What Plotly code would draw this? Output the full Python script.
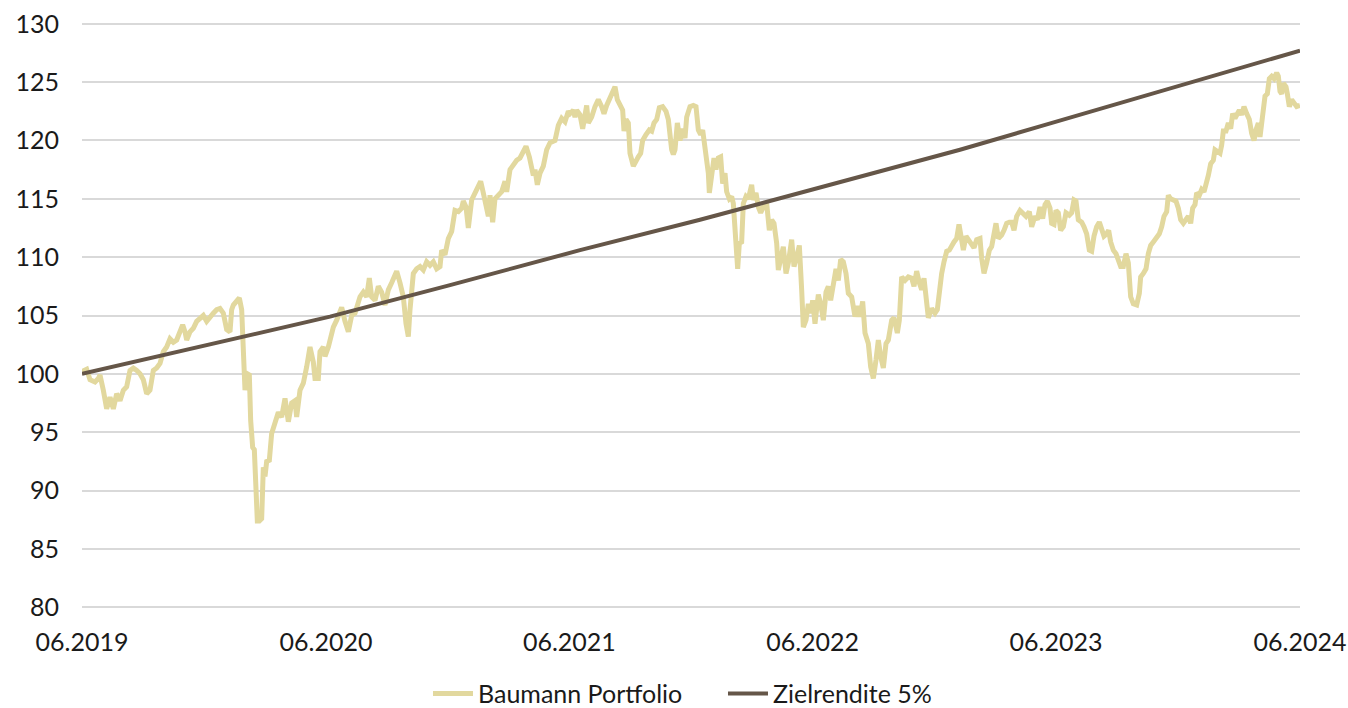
"""Baumann Portfolio vs. Zielrendite 5% (06.2019 - 06.2024)."""

import pandas as pd
import plotly.graph_objects as go

# Palette
BEIGE = "#E2D89E"
BROWN = "#655648"
GRID = "#D9D9D9"
TEXT = "#1A1A1A"

START_DATE = "2019-06-30"

# Days since START_DATE and index values (start = 100)
PORTFOLIO_DAYS = [
    0, 7, 12, 19.5, 24.5, 27, 32, 37, 42, 47, 52, 57, 62, 67, 72, 77, 82, 87, 92, 97,
    102, 107, 112, 117, 122, 127, 132, 137, 142, 147, 151, 154.5, 157, 162, 167, 172,
    177, 182, 187, 192, 197, 202, 207, 212, 217, 222, 224.5, 227, 232, 236, 239.5,
    242, 244.5, 248, 251, 253, 256, 258.5, 260.5, 263, 266, 269.5, 272, 274.5, 277,
    281, 284.5, 289.5, 294.5, 299.5, 304.5, 309.5, 314.5, 319.5, 322, 327, 332, 337,
    342, 347, 349.5, 354.5, 357, 362, 364.5, 369.5, 374.5,
    377, 382, 389.5, 394.5, 399.5, 404.5, 409.5, 417, 422, 427, 431, 434.5, 439.5,
    444.5, 449.5, 454.5, 459.5, 464.5, 472, 477, 482, 486, 489.5, 492, 497, 502, 507,
    512, 517, 522, 527, 532, 537, 539.5, 544.5, 549.5, 554.5, 559.5, 564.5, 569.5,
    572, 576, 579.5, 584.5, 589.5, 594.5, 598, 602, 607, 609.5, 612, 616, 619.5,
    624.5, 629.5, 634.5, 637, 642, 647, 652, 657, 662, 666, 671, 674.5, 677, 679.5,
    683, 687, 692, 697, 702, 709.5, 714.5, 719.5, 724.5, 729.5,
    732, 737, 739.5, 742, 747, 751, 754.5, 757, 759.5, 764.5, 769.5, 774.5, 779.5,
    783, 787, 792, 796, 799.5, 803, 807, 811, 813, 816, 819.5, 822, 827, 831, 834.5,
    838, 841, 846, 851, 854.5, 858, 862, 866, 871, 876, 879.5, 882, 884.5, 887,
    889.5, 893, 897, 901, 904.5, 907, 912, 917, 921, 924.5, 928, 931, 934.5, 937,
    939.5, 941, 944.5, 948, 951, 954.5, 958, 961, 964.5, 967, 971, 974.5, 977, 979.5,
    982, 983.5, 986, 989.5, 992, 996, 999.5, 1004.5, 1007, 1011, 1014.5, 1018, 1022,
    1027, 1031, 1034.5, 1038, 1042, 1044.5, 1048, 1052, 1056, 1059.5, 1064.5, 1068,
    1072, 1076,
    1079.5, 1082, 1086, 1089.5, 1093, 1096, 1099.5, 1104.5, 1108, 1112, 1116, 1119.5,
    1123, 1127, 1131, 1134.5, 1138, 1142, 1146, 1149.5, 1154.5, 1159.5, 1163, 1167,
    1171, 1174.5, 1179.5, 1183, 1187, 1191, 1194.5, 1198, 1202, 1206, 1209.5, 1214.5,
    1218, 1223, 1226, 1229.5, 1234.5, 1239.5, 1244.5, 1248, 1252, 1256, 1259.5, 1263,
    1266, 1269.5, 1274.5, 1279.5, 1283, 1286, 1289.5, 1293, 1297, 1301, 1304.5, 1308,
    1312, 1315.5, 1318.5, 1322, 1326, 1329.5, 1334.5, 1338, 1342, 1347, 1349.5, 1353,
    1357, 1361, 1364.5, 1368, 1371, 1374.5, 1379.5, 1383, 1387, 1391, 1394.5, 1398,
    1402, 1407, 1411, 1416, 1421, 1424.5, 1429.5, 1433,
    1437, 1441, 1444.5, 1448, 1452, 1454.5, 1458, 1461, 1464.5, 1468, 1472, 1476,
    1481, 1484.5, 1488, 1491, 1494.5, 1499.5, 1503, 1507, 1511, 1514.5, 1518, 1522,
    1526, 1529.5, 1533, 1537, 1540, 1543, 1547, 1551, 1554.5, 1558, 1562, 1566,
    1569.5, 1573, 1577, 1582, 1586, 1588, 1592, 1596, 1599.5, 1603, 1607, 1612, 1616,
    1619.5, 1623, 1627, 1629.5, 1633, 1637, 1641, 1644.5, 1648, 1652, 1656, 1659.5,
    1663, 1666, 1669.5, 1672, 1676, 1679.5, 1683, 1687, 1689.5, 1693, 1697, 1699.5,
    1703, 1707, 1709.5, 1712, 1716, 1719.5, 1723, 1726, 1729.5, 1733, 1736, 1739.5,
    1743, 1747, 1751, 1754.5, 1758, 1761, 1764.5, 1767, 1771, 1774.5, 1778, 1781,
    1784.5, 1788, 1792, 1794.5, 1797, 1799.5, 1802, 1806, 1808, 1811, 1814.5, 1818,
    1822, 1827,
]
PORTFOLIO_VALUES = [
    100.2, 100.4, 99.5, 99.3, 99.6, 99.9, 98.6, 97.0, 98.0, 97.0, 98.3, 97.7, 98.6,
    98.9, 100.3, 100.5, 100.3, 100.0, 99.5, 98.3, 98.6, 100.3, 100.5, 100.9, 101.9,
    102.3, 103.0, 102.7, 102.9, 103.5, 104.2, 103.6, 102.9, 103.6, 103.9, 104.5,
    104.8, 105.0, 104.5, 104.9, 105.2, 105.5, 105.6, 105.2, 103.8, 103.6, 105.5,
    105.9, 106.2, 106.5, 105.5, 102.3, 98.6, 100.0, 99.9, 96.0, 93.7, 93.5, 89.4,
    87.4, 87.4, 87.6, 92.0, 91.2, 92.5, 92.6, 94.9, 95.7, 96.7, 96.3, 97.9, 95.9,
    97.5, 97.7, 96.3, 98.6, 99.2, 100.6, 102.3, 101.0, 99.6, 99.6, 101.9, 102.3,
    101.5, 102.3, 103.5,
    104.0, 104.6, 105.7, 104.5, 103.6, 105.0, 105.2, 106.6, 107.0, 106.6, 108.2,
    106.6, 106.3, 107.5, 107.0, 105.9, 107.2, 107.8, 108.8, 107.8, 106.6, 104.3,
    103.2, 105.5, 108.6, 109.0, 109.2, 108.9, 109.6, 109.3, 109.6, 109.0, 109.2,
    110.6, 110.2, 111.6, 112.2, 114.0, 113.9, 114.2, 114.8, 114.3, 112.5, 114.9,
    115.5, 116.3, 116.5, 115.5, 114.0, 113.5, 115.3, 113.0, 115.0, 115.3, 115.6,
    116.5, 115.6, 117.5, 118.0, 118.3, 118.5, 119.2, 119.5, 118.6, 117.8, 117.0,
    117.5, 116.2, 117.2, 117.8, 119.2, 119.8, 120.0, 121.3, 121.9, 121.6, 122.5,
    122.3, 122.6, 122.0, 122.6, 122.2, 121.0, 122.3, 123.0, 121.5, 122.0, 122.9,
    123.5, 122.9, 122.3, 123.0, 123.6, 124.3, 124.6, 123.5, 122.9, 122.6, 120.8,
    121.8, 121.5, 118.9, 117.8, 118.3, 118.6, 118.9, 120.0, 120.5, 120.9, 120.8,
    121.5, 121.8, 122.8, 122.9, 122.5, 121.8, 120.3, 119.2, 118.8, 119.2, 121.5,
    120.0, 121.0, 120.2, 122.0, 122.9, 123.0, 122.9, 120.9, 120.5, 120.9, 119.5,
    118.9, 117.2, 115.5, 116.9, 118.5, 117.5, 118.5, 118.6, 116.3, 117.2, 115.6,
    115.0, 115.2, 114.6, 112.3, 110.6, 109.0, 111.2, 111.3, 114.6, 115.2, 115.0,
    116.2, 114.9, 115.5, 114.3, 113.8, 114.3, 114.6, 112.3, 113.2, 112.9, 111.2,
    108.9, 109.8, 110.9, 108.6, 109.5, 111.5, 109.2, 110.0, 111.0,
    107.2, 104.0, 104.6, 106.0, 105.2, 106.3, 104.3, 106.8, 106.0, 104.6, 107.0,
    107.5, 106.3, 108.0, 109.0, 108.0, 109.8, 109.6, 108.6, 106.9, 106.6, 104.9,
    105.8, 104.9, 106.2, 103.5, 102.6, 100.6, 99.6, 101.2, 102.9, 101.5, 100.5,
    102.6, 102.9, 104.6, 104.8, 103.5, 104.6, 108.3, 108.0, 108.3, 108.2, 107.5,
    108.8, 107.8, 107.2, 108.2, 106.0, 104.8, 105.6, 105.2, 105.5, 107.5, 108.6,
    109.6, 110.5, 110.6, 111.0, 111.3, 111.6, 112.8, 111.8, 110.6, 111.8, 111.5,
    111.0, 110.8, 111.5, 111.6, 109.9, 108.6, 109.5, 110.6, 110.9, 111.8, 112.9,
    111.6, 111.9, 112.3, 112.9, 113.0, 113.0, 112.3, 113.5, 114.0, 113.8, 113.5,
    113.9, 112.6, 113.5, 113.2,
    114.3, 113.3, 114.5, 114.8, 114.2, 112.9, 112.8, 114.0, 113.8, 112.3, 112.6,
    113.8, 113.6, 113.8, 114.9, 114.8, 113.2, 113.0, 112.6, 112.0, 110.6, 110.5,
    111.8, 112.6, 113.0, 112.5, 111.8, 112.0, 112.3, 111.3, 110.6, 110.3, 109.8,
    109.2, 109.2, 110.3, 109.5, 106.6, 106.0, 105.9, 106.9, 108.3, 108.6, 109.0,
    110.3, 111.0, 111.3, 111.8, 112.0, 112.6, 113.5, 113.9, 115.3, 115.0, 114.9,
    114.8, 114.2, 113.2, 112.9, 113.2, 113.5, 112.9, 114.2, 114.5, 115.5, 115.3,
    115.8, 115.6, 116.3, 117.0, 118.0, 118.3, 119.2, 119.0, 118.9, 119.6, 120.8,
    120.8, 121.5, 121.0, 122.3, 121.9, 122.2, 122.6, 122.2, 122.9, 122.3, 121.8,
    120.6, 120.0, 120.9, 121.5, 120.3, 122.1, 123.8, 124.0, 125.3, 125.5, 125.3,
    125.8, 125.5, 124.2, 124.0, 124.9, 124.6, 124.0, 122.9, 123.5, 123.2, 122.9,
    123.0,
]

# Target return line (5% p.a.)
TARGET_DAYS = [0, 192, 372, 552, 747, 927, 1152, 1317, 1437, 1789.5, 1827]
TARGET_VALUES = [100.0, 102.5, 104.9, 107.6, 110.6, 113.2, 116.7, 119.2, 121.2, 127.1, 127.7]

X_TICK_DATES = ["2019-06-30", "2020-06-30", "2021-06-30", "2022-06-30", "2023-06-30", "2024-06-30"]
X_TICK_LABELS = ["06.2019", "06.2020", "06.2021", "06.2022", "06.2023", "06.2024"]
Y_TICKS = [80, 85, 90, 95, 100, 105, 110, 115, 120, 125, 130]


def to_dates(days):
    return pd.Timestamp(START_DATE) + pd.to_timedelta(days, unit="D")


fig = go.Figure()

fig.add_trace(
    go.Scatter(
        x=to_dates(PORTFOLIO_DAYS),
        y=PORTFOLIO_VALUES,
        mode="lines",
        name="Baumann Portfolio",
        line=dict(color=BEIGE, width=5),
    )
)
fig.add_trace(
    go.Scatter(
        x=to_dates(TARGET_DAYS),
        y=TARGET_VALUES,
        mode="lines",
        name="Zielrendite 5%",
        line=dict(color=BROWN, width=4),
    )
)

fig.update_layout(
    width=1348,
    height=708,
    paper_bgcolor="white",
    plot_bgcolor="white",
    font=dict(family="Lato", color=TEXT, size=24),
    margin={"l": 82, "r": 48, "t": 22, "b": 99, "autoexpand": False},
    showlegend=True,
    legend=dict(
        orientation="h",
        x=0.3175,
        xanchor="left",
        xref="container",
        y=0.02,
        yanchor="middle",
        yref="container",
        font=dict(size=25),
        itemwidth=40,
        entrywidth=240,
    ),
    xaxis=dict(
        type="date",
        range=[X_TICK_DATES[0], X_TICK_DATES[-1]],
        tickvals=X_TICK_DATES,
        ticktext=X_TICK_LABELS,
        showgrid=False,
        zeroline=False,
        showline=False,
        ticks="",
        automargin=False,
        ticklabelstandoff=16,
        ticklabeloverflow="allow",
        tickfont=dict(size=25),
    ),
    yaxis=dict(
        # a little beyond 80-130 so the edge grid lines are still drawn
        range=[79.85, 130.15],
        tickvals=Y_TICKS,
        showgrid=True,
        gridcolor=GRID,
        gridwidth=1.5,
        zeroline=False,
        showline=False,
        ticks="",
        automargin=False,
        ticklabelstandoff=22,
        ticklabeloverflow="allow",
        tickfont=dict(size=25),
    ),
)

# drop the default 8px page margin so the fixed-size figure fills the window
fig.write_html(
    "out.html",
    config={"displayModeBar": False},
    post_script="document.body.style.margin = '0';",
)
